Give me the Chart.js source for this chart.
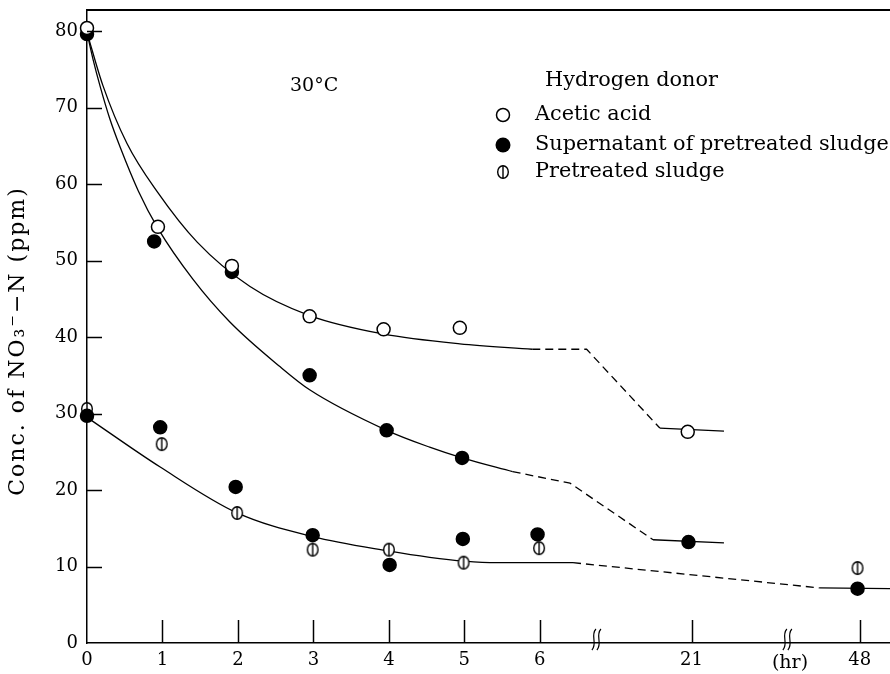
<!DOCTYPE html>
<html>
<head>
<meta charset="utf-8">
<script src="https://cdn.jsdelivr.net/npm/chart.js@4.4.1/dist/chart.umd.min.js"></script>
<style>
    html, body { margin: 0; padding: 0; background: #fff; }
</style>
</head>
<body>
<canvas id="graficaCanvas" width="890" height="674"></canvas>
<script>
// Eje x roto: posicion en el eje y etiqueta en horas
const tickPos = [0, 1, 2, 3, 4, 5, 6, 8.01, 10.24];
const tickHoras = ['0', '1', '2', '3', '4', '5', '6', '21', '48'];
const cortesPos = [6.75, 9.28];
const yTicks = [0, 10, 20, 30, 40, 50, 60, 70, 80];

// Puntos medidos (x en posicion del eje)
const aceticoX = [0, 0.94, 1.92, 2.95, 3.93, 4.94, 7.96];
const aceticoY = [80.4, 54.4, 49.3, 42.7, 41.0, 41.2, 27.6];
const sobrenadanteX = [0, 0.89, 1.92, 2.95, 3.97, 4.97, 7.97];
const sobrenadanteY = [79.6, 52.5, 48.5, 35.0, 27.8, 24.2, 13.2];
const sobrenadanteBajoX = [0, 0.97, 1.97, 2.99, 4.01, 4.98, 5.97, 10.21];
const sobrenadanteBajoY = [29.7, 28.2, 20.4, 14.1, 10.2, 13.6, 14.2, 7.1];
const lodoX = [0, 0.99, 1.99, 2.99, 4.0, 4.99, 5.99, 10.21];
const lodoY = [30.6, 26.0, 17.0, 12.2, 12.2, 10.5, 12.4, 9.8];

// Curvas dibujadas a mano en la figura
const aceticoCurvaX = [0, 0.21, 0.53, 0.93, 1.46, 2.16, 2.95, 3.92, 4.94, 5.9];
const aceticoCurvaY = [79.8, 72.9, 65.3, 59.0, 52.4, 46.6, 42.8, 40.4, 39.1, 38.4];
const aceticoTramoX = [5.9, 6.62, 7.59];
const aceticoTramoY = [38.4, 38.4, 28.1];
const aceticoColaX = [7.59, 8.44];
const aceticoColaY = [28.1, 27.7];

const sobreCurvaX = [0, 0.08, 0.176, 0.3, 0.44, 0.68, 0.94, 1.4, 1.89, 2.56, 2.95, 3.97, 4.54, 4.97, 5.64];
const sobreCurvaY = [79.8, 76.3, 72.7, 68.6, 64.8, 59.1, 54.2, 47.6, 42.0, 36.1, 33.1, 27.8, 25.6, 24.2, 22.4];
const sobreTramoX = [5.64, 6.4, 7.5];
const sobreTramoY = [22.4, 20.9, 13.5];
const sobreColaX = [7.5, 8.44];
const sobreColaY = [13.5, 13.1];

const lodoCurvaX = [0, 0.97, 1.99, 2.99, 4.01, 4.54, 5.0, 5.43, 6.44];
const lodoCurvaY = [29.5, 23.0, 17.0, 13.9, 12.0, 11.2, 10.7, 10.5, 10.5];
const lodoTramoX = [6.44, 9.71];
const lodoTramoY = [10.5, 7.2];
const lodoColaX = [9.71, 10.64];
const lodoColaY = [7.2, 7.1];

const serif = "'DejaVu Serif', 'Liberation Serif', serif";

function puntos(xs, ys) {
    return xs.map((x, i) => ({ x: x, y: ys[i] }));
}

// Circulo con raya vertical (lodo pretratado)
function marcaLodo() {
    const c = document.createElement('canvas');
    c.width = 14;
    c.height = 16;
    const g = c.getContext('2d');
    g.strokeStyle = '#000';
    g.fillStyle = '#fff';
    g.lineWidth = 1.4;
    g.beginPath();
    g.ellipse(7, 8, 5.3, 6.3, 0, 0, Math.PI * 2);
    g.fill();
    g.stroke();
    g.beginPath();
    g.moveTo(7, 1.8);
    g.lineTo(7, 14.2);
    g.stroke();
    return c;
}
const imgLodo = marcaLodo();

function serie(xs, ys, relleno, estilo) {
    return {
        data: puntos(xs, ys),
        showLine: false,
        clip: false,
        pointStyle: estilo || 'circle',
        pointRadius: 6.5,
        pointHoverRadius: 6.5,
        pointBorderWidth: 1.5,
        pointBorderColor: '#000',
        pointBackgroundColor: relleno
    };
}

function linea(xs, ys, discontinua, curva) {
    return {
        data: puntos(xs, ys),
        showLine: true,
        clip: false,
        pointRadius: 0,
        borderColor: '#000',
        borderWidth: 1.3,
        borderDash: discontinua ? [8, 5] : [],
        tension: 0,
        cubicInterpolationMode: curva ? 'monotone' : 'default'
    };
}

const decorado = {
    id: 'decorado',
    afterDraw(chart) {
        const { ctx, chartArea: a, scales: { x, y } } = chart;
        ctx.save();
        ctx.strokeStyle = '#000';
        ctx.fillStyle = '#000';

        // linea superior del marco
        ctx.lineWidth = 2;
        ctx.beginPath();
        ctx.moveTo(a.left, a.top);
        ctx.lineTo(a.right, a.top);
        ctx.stroke();

        // marcas hacia dentro
        ctx.lineWidth = 1.5;
        yTicks.slice(1).forEach(v => {
            const py = Math.round(y.getPixelForValue(v)) + 0.5;
            ctx.beginPath();
            ctx.moveTo(a.left, py);
            ctx.lineTo(a.left + 15, py);
            ctx.stroke();
        });
        tickPos.slice(1).forEach(v => {
            const px = Math.round(x.getPixelForValue(v)) + 0.5;
            ctx.beginPath();
            ctx.moveTo(px, a.bottom);
            ctx.lineTo(px, a.bottom - 23);
            ctx.stroke();
        });

        // cortes del eje x
        ctx.lineWidth = 1.2;
        cortesPos.forEach(v => {
            const px = x.getPixelForValue(v);
            [-2.5, 2.5].forEach(d => {
                ctx.beginPath();
                ctx.moveTo(px + d + 2, a.bottom - 14);
                ctx.bezierCurveTo(px + d - 4, a.bottom - 7, px + d + 4, a.bottom, px + d - 2, a.bottom + 7);
                ctx.stroke();
            });
        });

        // textos
        ctx.textBaseline = 'middle';
        ctx.textAlign = 'left';
        ctx.font = '19px ' + serif;
        ctx.fillText('30°C', 290, 86);
        ctx.font = '20.8px ' + serif;
        ctx.fillText('Hydrogen donor', 545, 81);
        ctx.fillText('Acetic acid', 535, 115);
        ctx.fillText('Supernatant of pretreated sludge', 535, 145);
        ctx.fillText('Pretreated sludge', 535, 172);

        // marcas de la leyenda
        ctx.lineWidth = 1.5;
        ctx.fillStyle = '#fff';
        ctx.beginPath();
        ctx.arc(503, 115, 6.5, 0, Math.PI * 2);
        ctx.fill();
        ctx.stroke();
        ctx.fillStyle = '#000';
        ctx.beginPath();
        ctx.arc(503, 145, 7.5, 0, Math.PI * 2);
        ctx.fill();
        ctx.drawImage(imgLodo, 496, 164);

        ctx.textAlign = 'center';
        ctx.font = '19px ' + serif;
        ctx.fillText('(hr)', 790, 663);

        // titulo del eje y
        ctx.translate(18, 341);
        ctx.rotate(-Math.PI / 2);
        ctx.font = '22px ' + serif;
        ctx.letterSpacing = '2px';
        ctx.fillText('Conc. of NO\u2083\u207B\u2212N (ppm)', 0, 0);
        ctx.restore();
    }
};

const ctx = document.getElementById('graficaCanvas').getContext('2d');
const grafica = new Chart(ctx, {
    type: 'scatter',
    data: {
        datasets: [
            serie(aceticoX, aceticoY, '#fff'),
            serie(sobrenadanteX, sobrenadanteY, '#000'),
            serie(sobrenadanteBajoX, sobrenadanteBajoY, '#000'),
            serie(lodoX, lodoY, '#fff', imgLodo),
            linea(aceticoCurvaX, aceticoCurvaY, false, true),
            linea(aceticoTramoX, aceticoTramoY, true, false),
            linea(aceticoColaX, aceticoColaY, false, false),
            linea(sobreCurvaX, sobreCurvaY, false, true),
            linea(sobreTramoX, sobreTramoY, true, false),
            linea(sobreColaX, sobreColaY, false, false),
            linea(lodoCurvaX, lodoCurvaY, false, true),
            linea(lodoTramoX, lodoTramoY, true, false),
            linea(lodoColaX, lodoColaY, false, false)
        ]
    },
    options: {
        responsive: false,
        animation: false,
        layout: { autoPadding: false, padding: { top: 10, right: 0, bottom: 0, left: 0 } },
        plugins: {
            legend: { display: false },
            tooltip: { enabled: false }
        },
        scales: {
            x: {
                type: 'linear',
                min: 0,
                max: 10.64,
                grid: { display: false, drawTicks: false },
                border: { display: true, color: '#000', width: 1.5 },
                afterBuildTicks: s => { s.ticks = tickPos.map(v => ({ value: v })); },
                afterFit: s => { s.height = 31; s.paddingLeft = 0; s.paddingRight = 0; },
                ticks: {
                    autoSkip: false,
                    maxRotation: 0,
                    padding: 7,
                    color: '#000',
                    font: { family: serif, size: 18 },
                    callback: v => tickHoras[tickPos.indexOf(v)]
                }
            },
            y: {
                min: 0,
                max: 82.75,
                grid: { display: false, drawTicks: false },
                border: { display: true, color: '#000', width: 1.5 },
                afterBuildTicks: s => { s.ticks = yTicks.map(v => ({ value: v })); },
                afterFit: s => { s.width = 87; s.paddingTop = 0; s.paddingBottom = 0; },
                ticks: {
                    padding: 9,
                    color: '#000',
                    font: { family: serif, size: 18 }
                }
            }
        }
    },
    plugins: [decorado]
});
</script>
</body>
</html>
